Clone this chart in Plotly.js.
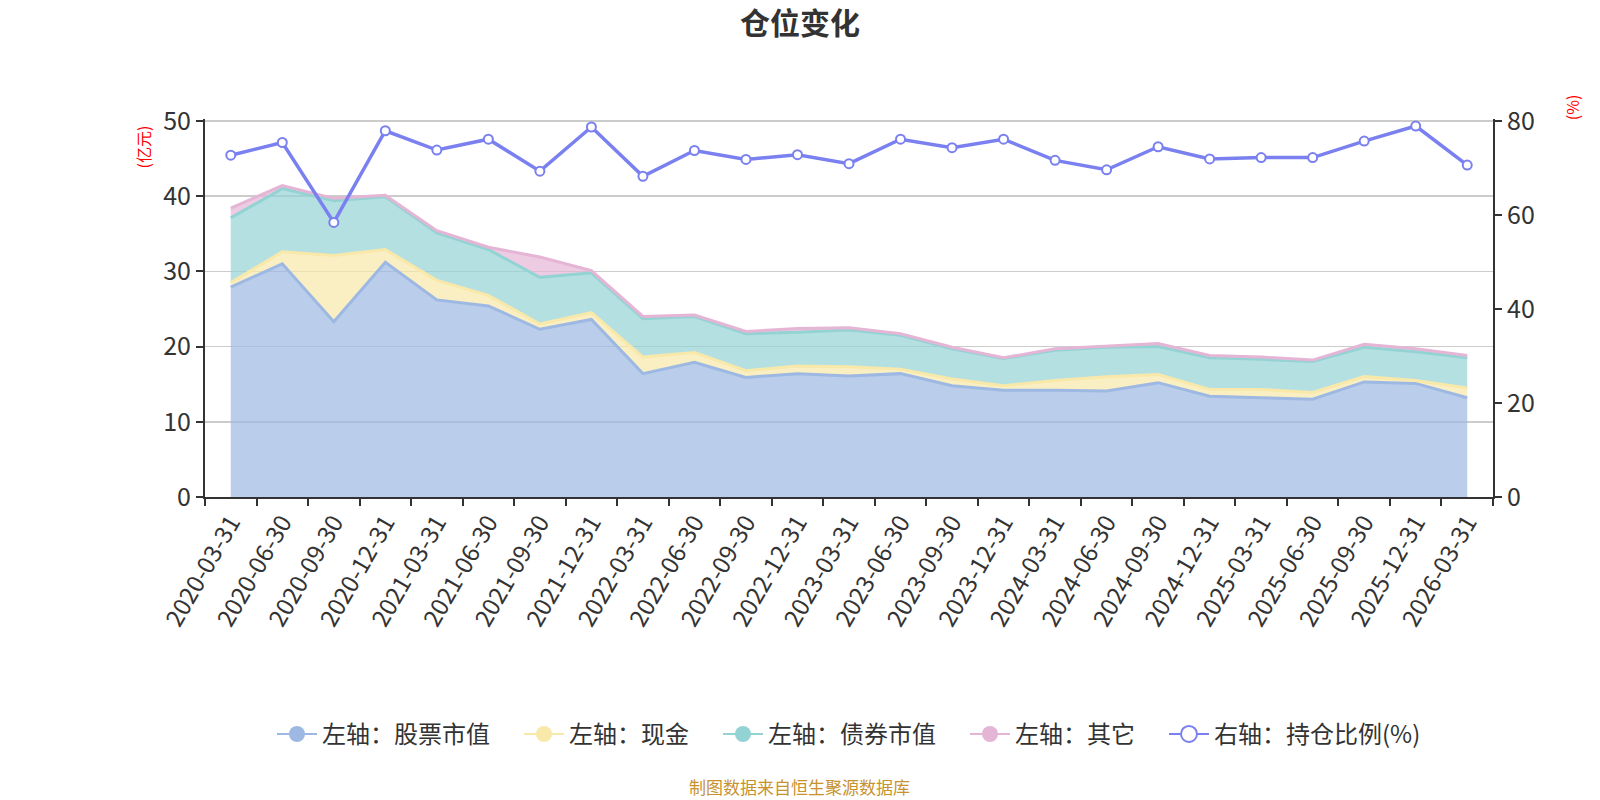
<!DOCTYPE html>
<html>
<head>
<meta charset="utf-8">
<script src="https://cdn.plot.ly/plotly-3.0.1.min.js"></script>
<style>html,body{margin:0;padding:0;background:#fff;}#chart{width:1600px;height:800px;}</style>
</head>
<body>
<div id="chart"></div>
<script>
const dates = ["2020-03-31","2020-06-30","2020-09-30","2020-12-31","2021-03-31","2021-06-30","2021-09-30","2021-12-31","2022-03-31","2022-06-30","2022-09-30","2022-12-31","2023-03-31","2023-06-30","2023-09-30","2023-12-31","2024-03-31","2024-06-30","2024-09-30","2024-12-31","2025-03-31","2025-06-30","2025-09-30","2025-12-31","2026-03-31"];
const stockValue = [27.9,31.0,23.3,31.2,26.2,25.4,22.3,23.6,16.4,17.9,15.9,16.4,16.1,16.4,14.8,14.2,14.2,14.1,15.2,13.4,13.2,13.0,15.3,15.1,13.2];
const cashValue = [0.6,1.6,8.8,1.7,2.6,1.4,0.7,0.9,2.2,1.3,0.9,1.0,1.2,0.6,0.9,0.6,1.3,1.9,1.1,0.9,1.1,0.9,0.7,0.4,1.3];
const bondValue = [8.6,8.4,7.3,7.0,6.3,6.1,6.2,5.3,5.1,4.8,4.9,4.5,4.9,4.5,4.0,3.6,4.0,3.9,3.7,4.2,4.0,4.1,3.9,3.8,4.0];
const otherValue = [1.3,0.4,0.3,0.2,0.3,0.3,2.7,0.3,0.3,0.2,0.3,0.5,0.3,0.2,0.2,0.1,0.2,0.2,0.4,0.3,0.3,0.2,0.4,0.4,0.3];
const positionRatio = [72.7,75.4,58.4,77.9,73.8,76.1,69.3,78.7,68.2,73.7,71.8,72.8,70.9,76.1,74.3,76.1,71.6,69.6,74.5,71.9,72.2,72.2,75.7,78.9,70.6];
const seriesNames = ["左轴：股票市值","左轴：现金","左轴：债券市值","左轴：其它","右轴：持仓比例(%)"];
const leftTicks = [0,10,20,30,40,50];
const rightTicks = [0,20,40,60,80];

const FONT = '"Noto Sans CJK SC", "Noto Sans", sans-serif';
const areaStyles = [
  {line:"rgb(157,184,226)", fill:"rgba(157,184,226,0.7)"},
  {line:"rgb(248,232,169)", fill:"rgba(248,232,169,0.7)"},
  {line:"rgb(148,211,212)", fill:"rgba(148,211,212,0.7)"},
  {line:"rgb(229,181,214)", fill:"rgba(229,181,214,0.7)"}
];
const areaData = [stockValue, cashValue, bondValue, otherValue];
const lineColor = "#7a80f0";

const traces = [];
areaData.forEach((vals, i) => {
  traces.push({
    type: "scatter", x: dates, y: vals, name: seriesNames[i],
    stackgroup: "one", mode: "lines",
    line: {color: areaStyles[i].line, width: 3},
    fillcolor: areaStyles[i].fill,
    showlegend: false, legendgroup: "g" + i
  });
});
traces.push({
  type: "scatter", x: dates, y: positionRatio, name: seriesNames[4], yaxis: "y2",
  mode: "lines+markers",
  line: {color: lineColor, width: 3.5},
  marker: {symbol: "circle", size: 9, color: "#ffffff", line: {color: lineColor, width: 2}},
  showlegend: false, legendgroup: "g4"
});
for (let i = 0; i < 4; i++) {
  traces.push({
    type: "scatter", x: [null], y: [null], name: seriesNames[i] + "\u2003", mode: "lines+markers",
    line: {color: areaStyles[i].line, width: 2},
    marker: {symbol: "circle", size: 22, color: areaStyles[i].line},
    legendgroup: "g" + i, showlegend: true
  });
}
traces.push({
  type: "scatter", x: [null], y: [null], name: seriesNames[4], mode: "lines+markers",
  line: {color: lineColor, width: 2},
  marker: {symbol: "circle", size: 22, color: "#ffffff", line: {color: lineColor, width: 2}},
  legendgroup: "g4", showlegend: true
});

const layout = {
  width: 1600, height: 800,
  paper_bgcolor: "#ffffff", plot_bgcolor: "#ffffff",
  margin: {l: 205, r: 107, t: 119, b: 303},
  font: {family: FONT, color: "#333333", size: 22},
  title: {text: "<b>仓位变化</b>", x: 0.5, xanchor: "center", y: 0.971, yanchor: "middle",
          font: {family: FONT, size: 30, color: "#333333"}},
  xaxis: {
    type: "category", categoryorder: "array", categoryarray: dates,
    range: [-0.5, dates.length - 0.5],
    tickson: "boundaries", ticks: "outside", ticklen: 7, tickwidth: 2, tickcolor: "#333",
    showline: true, linecolor: "#333", linewidth: 2,
    showgrid: false, tickangle: -60,
    tickfont: {family: FONT, size: 24, color: "#333"}
  },
  yaxis: {
    range: [0, 50.25], tickvals: leftTicks,
    ticks: "outside", ticklen: 7, tickwidth: 2, tickcolor: "#333",
    showline: true, linecolor: "#333", linewidth: 2,
    showgrid: true, gridcolor: "#cccccc", gridwidth: 1.5,
    zeroline: false,
    tickfont: {family: FONT, size: 25, color: "#333"}
  },
  yaxis2: {
    overlaying: "y", side: "right",
    range: [0, 80.4], tickvals: rightTicks,
    ticks: "outside", ticklen: 7, tickwidth: 2, tickcolor: "#333",
    showline: true, linecolor: "#333", linewidth: 2,
    showgrid: false, zeroline: false,
    tickfont: {family: FONT, size: 25, color: "#333"}
  },
  legend: {
    orientation: "h", x: 0.5, xanchor: "center", y: -0.628, yanchor: "middle",
    font: {family: FONT, size: 24, color: "#333"},
    itemsizing: "trace", itemwidth: 40, traceorder: "normal"
  },
  annotations: [
    {text: "(亿元)", xref: "paper", yref: "paper", x: -0.048, y: 0.925, textangle: -90,
     showarrow: false, font: {family: FONT, size: 16, color: "#ff0000"}, xanchor: "center", yanchor: "middle"},
    {text: "(%)", xref: "paper", yref: "paper", x: 1.061, y: 1.03, textangle: -90,
     showarrow: false, font: {family: FONT, size: 16, color: "#ff0000"}, xanchor: "center", yanchor: "middle"},
    {text: "制图数据来自恒生聚源数据库", xref: "paper", yref: "paper", x: 0.4616, y: -0.765,
     showarrow: false, font: {family: FONT, size: 17, color: "#c8922e"}, xanchor: "center", yanchor: "middle"}
  ]
};

Plotly.newPlot("chart", traces, layout, {displayModeBar: false, staticPlot: true});
</script>
</body>
</html>
